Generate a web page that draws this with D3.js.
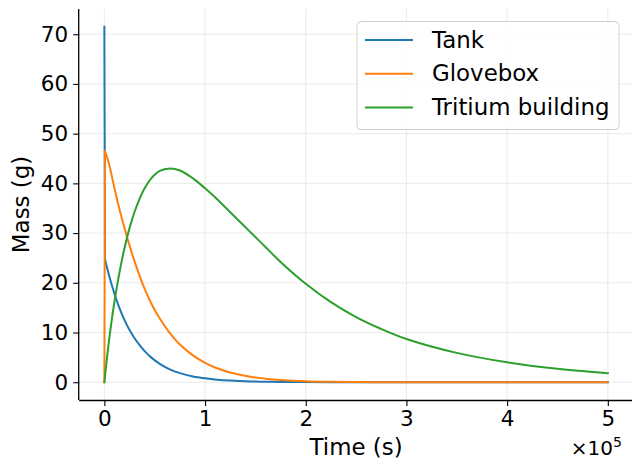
<!DOCTYPE html>
<html>
<head>
<meta charset="utf-8">
<script src="https://cdn.jsdelivr.net/npm/d3@7"></script>
<style>
  html, body { margin: 0; padding: 0; background: #fff; }
  svg { display: block; font-family: "DejaVu Sans", sans-serif; }
</style>
</head>
<body>
<svg id="chart" width="632" height="462"></svg>
<script>
// Shared time grid (s)
const time = [0, 600, 5000, 10000, 15000, 20000, 25000, 30000, 35000, 40000,
  47000, 55000, 65000, 75000, 88000, 100000, 112000, 125000, 145000, 160000,
  175000, 200000, 225000, 250000, 275000, 300000, 350000, 400000, 450000, 500000];

// Tritium mass in each compartment (g)
const tank = [71.5, 24.8, 21.2, 17.8, 14.9, 12.5, 10.5, 8.85, 7.45, 6.25,
  4.9, 3.7, 2.6, 1.84, 1.17, 0.79, 0.52, 0.33, 0.16, 0.1,
  0.06, 0.025, 0.01, 0, 0, 0, 0, 0, 0, 0];
const glovebox = [0, 46.5, 43.6, 39.0, 34.8, 31.0, 27.5, 24.3, 21.4, 18.8,
  15.7, 12.8, 9.9, 7.6, 5.4, 3.9, 2.8, 1.95, 1.1, 0.72,
  0.47, 0.22, 0.1, 0.05, 0.02, 0.01, 0, 0, 0, 0];
const building = [0, 1.15, 9.0, 16.2, 22.1, 27.0, 31.0, 34.3, 36.9, 39.0,
  41.1, 42.5, 43.0, 42.6, 41.0, 39.0, 36.8, 34.2, 30.2, 27.2,
  24.2, 19.8, 16.1, 13.1, 10.7, 8.7, 5.9, 4.0, 2.7, 1.8];

const seriesNames = ["Tank", "Glovebox", "Tritium building"];
const seriesValues = [tank, glovebox, building];
const seriesColors = ["#1f77b4", "#ff7f0e", "#2ca02c"];

const xTicks = [0, 100000, 200000, 300000, 400000, 500000];
const yTicks = [0, 10, 20, 30, 40, 50, 60, 70];

const svg = d3.select("#chart");
const TICK_FONT = 21.5;
const LABEL_FONT = 22.9;

const x = d3.scaleLinear().domain([-25000, 525000]).range([79.2, 633]);
const y = d3.scaleLinear().domain([-3.575, 75.075]).range([400, 9]);

// grid
const grid = svg.append("g");
grid.selectAll("line.vx").data(xTicks).join("line")
  .attr("x1", d => x(d)).attr("x2", d => x(d))
  .attr("y1", y.range()[1]).attr("y2", y.range()[0])
  .attr("stroke", "#b0b0b0").attr("stroke-opacity", 0.25).attr("stroke-width", 1);
grid.selectAll("line.hy").data(yTicks).join("line")
  .attr("x1", x.range()[0]).attr("x2", x.range()[1])
  .attr("y1", d => y(d)).attr("y2", d => y(d))
  .attr("stroke", "#b0b0b0").attr("stroke-opacity", 0.25).attr("stroke-width", 1);

// series lines: the t=0 step is straight, the rest is a smooth spline
const stepLine = d3.line();
const smoothLine = d3.line().curve(d3.curveCatmullRom.alpha(0.5));
seriesValues.forEach((vals, i) => {
  const pts = time.map((t, j) => [x(t), y(vals[j])]);
  const d = stepLine(pts.slice(0, 2)) + smoothLine(pts.slice(1)).replace(/^M[^C]*/, "");
  svg.append("path")
    .attr("d", d)
    .attr("fill", "none")
    .attr("stroke", seriesColors[i])
    .attr("stroke-width", 2)
    .attr("stroke-linejoin", "round")
    .attr("stroke-linecap", "square");
});

// axes
const xAxis = d3.axisBottom(x).tickValues(xTicks)
  .tickFormat(d => String(d / 100000)).tickSize(6).tickPadding(5);
const yAxis = d3.axisLeft(y).tickValues(yTicks)
  .tickFormat(d => String(d)).tickSize(6).tickPadding(5);

const gx = svg.append("g").attr("transform", `translate(0,${y.range()[0]})`).call(xAxis);
const gy = svg.append("g").attr("transform", `translate(${x.range()[0]},0)`).call(yAxis);
[gx, gy].forEach(g => {
  g.selectAll("text").attr("font-size", TICK_FONT).attr("fill", "#000")
    .attr("font-family", "DejaVu Sans");
  g.selectAll("line").attr("stroke", "#000").attr("stroke-width", 1.1);
  g.select(".domain").attr("stroke", "#000").attr("stroke-width", 1.3);
});
gx.select(".domain").attr("d", `M${x.range()[0]},0.5H${x.range()[1]}`);
gy.select(".domain").attr("d", `M-0.5,${y.range()[0]}V${y.range()[1]}`);

// axis labels
svg.append("text")
  .attr("x", (x.range()[0] + x.range()[1]) / 2).attr("y", 455)
  .attr("text-anchor", "middle").attr("font-size", LABEL_FONT).text("Time (s)");
svg.append("text")
  .attr("transform", `translate(28.5,${(y.range()[0] + y.range()[1]) / 2}) rotate(-90)`)
  .attr("text-anchor", "middle").attr("font-size", LABEL_FONT).text("Mass (g)");

// offset (×10^5) label
const off = svg.append("text").attr("x", 622).attr("y", 455)
  .attr("text-anchor", "end").attr("font-size", 20);
off.append("tspan").text("×10");
off.append("tspan").attr("dy", -8.5).attr("font-size", 14).text("5");

// legend
const lg = svg.append("g");
lg.append("rect")
  .attr("x", 357).attr("y", 21.5).attr("width", 262).attr("height", 108)
  .attr("rx", 4).attr("fill", "#fff").attr("fill-opacity", 0.8)
  .attr("stroke", "#d0d0d0").attr("stroke-width", 1);
seriesNames.forEach((name, i) => {
  const cy = 40 + i * 33.8;
  lg.append("line").attr("x1", 365).attr("x2", 413)
    .attr("y1", cy).attr("y2", cy)
    .attr("stroke", seriesColors[i]).attr("stroke-width", 2);
  lg.append("text").attr("x", 432).attr("y", cy + 7.6)
    .attr("font-size", LABEL_FONT).text(name);
});
</script>
</body>
</html>
